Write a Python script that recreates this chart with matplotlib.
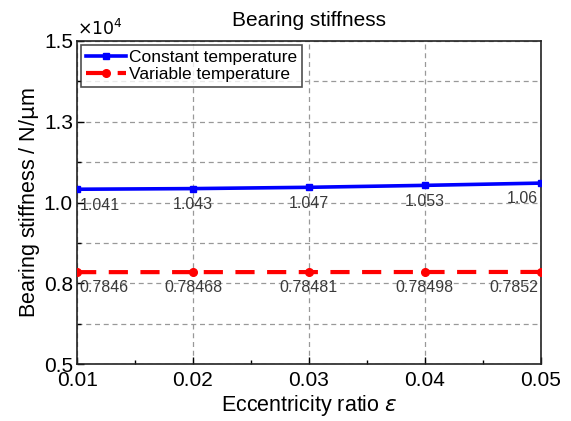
import matplotlib
matplotlib.use("Agg")
import matplotlib.pyplot as plt
from matplotlib.ticker import MultipleLocator, FixedLocator, FixedFormatter

plt.rcParams['font.family'] = ['Liberation Sans', 'DejaVu Sans']

ecc = [0.01, 0.02, 0.03, 0.04, 0.05]
const_temp = [1.041, 1.043, 1.047, 1.053, 1.06]
var_temp = [0.7846, 0.78468, 0.78481, 0.78498, 0.7852]
const_labels = ["1.041", "1.043", "1.047", "1.053", "1.06"]
var_labels = ["0.7846", "0.78468", "0.78481", "0.78498", "0.7852"]
xtick_labels = ["0.01", "0.02", "0.03", "0.04", "0.05"]
ytick_vals = [0.5, 0.75, 1.0, 1.25, 1.5]
ytick_labels = ["0.5", "0.8", "1.0", "1.3", "1.5"]

fig = plt.figure(figsize=(5.71, 4.21), dpi=100)
ax = fig.add_axes([0.135, 0.135, 0.812, 0.768])

ax.plot(ecc, const_temp, color='#0000ff', lw=2.6, marker='s', ms=5,
        label='Constant temperature', zorder=3)
ax.plot(ecc, var_temp, color='#ff0000', lw=3, ls=(0, (4.6, 3)), marker='o', ms=5.5,
        label='Variable temperature', zorder=3)

def annotate_series(xs, ys, texts):
    n = len(xs)
    for i, (x, y, t) in enumerate(zip(xs, ys, texts)):
        ha = 'left' if i == 0 else ('right' if i == n - 1 else 'center')
        dx = 2 if i == 0 else (-2 if i == n - 1 else 0)
        ax.annotate(t, (x, y), xytext=(dx, -6), textcoords='offset points',
                    ha=ha, va='top', fontsize=11.5, color='#3a3a3a')

annotate_series(ecc, const_temp, const_labels)
annotate_series(ecc, var_temp, var_labels)

ax.set_xlim(0.01, 0.05)
ax.set_ylim(0.5, 1.5)
ax.set_xticks(ecc)
ax.set_xticklabels(xtick_labels)
ax.xaxis.set_minor_locator(MultipleLocator(0.005))
ax.yaxis.set_major_locator(FixedLocator(ytick_vals))
ax.yaxis.set_major_formatter(FixedFormatter(ytick_labels))
ax.yaxis.set_minor_locator(MultipleLocator(0.125))

ax.tick_params(axis='both', which='both', direction='in', labelsize=15, width=1)
ax.tick_params(axis='both', which='major', length=5)
ax.tick_params(axis='x', which='major', pad=5)
ax.tick_params(axis='y', which='major', pad=3)
ax.tick_params(axis='both', which='minor', length=3)
ax.grid(True, which='major', axis='x', ls=(0, (4, 3)), color='#999999', lw=0.9)
ax.grid(True, which='both', axis='y', ls=(0, (4, 3)), color='#999999', lw=0.9)
ax.set_axisbelow(True)
for s in ax.spines.values():
    s.set_linewidth(1.2)
    s.set_color('#222222')

ax.set_xlabel(r'Eccentricity ratio $\varepsilon$', fontsize=15.5, labelpad=2)
ax.set_ylabel(r'Bearing stiffness / N/$\mathrm{\mu}$m', fontsize=15.5, labelpad=1)
ax.set_title('Bearing stiffness', fontsize=15, pad=11)
ax.text(0.0, 1.01, r'$\times10^4$', transform=ax.transAxes, fontsize=12.5,
        ha='left', va='bottom')

leg = ax.legend(loc='upper left', fontsize=12.5, frameon=True, fancybox=False,
                edgecolor='#222222', borderaxespad=0.25, handlelength=2.3,
                handletextpad=0.2, labelspacing=0.15, borderpad=0.25)
leg.get_frame().set_linewidth(1.2)

fig.savefig('out.png', dpi=100)
